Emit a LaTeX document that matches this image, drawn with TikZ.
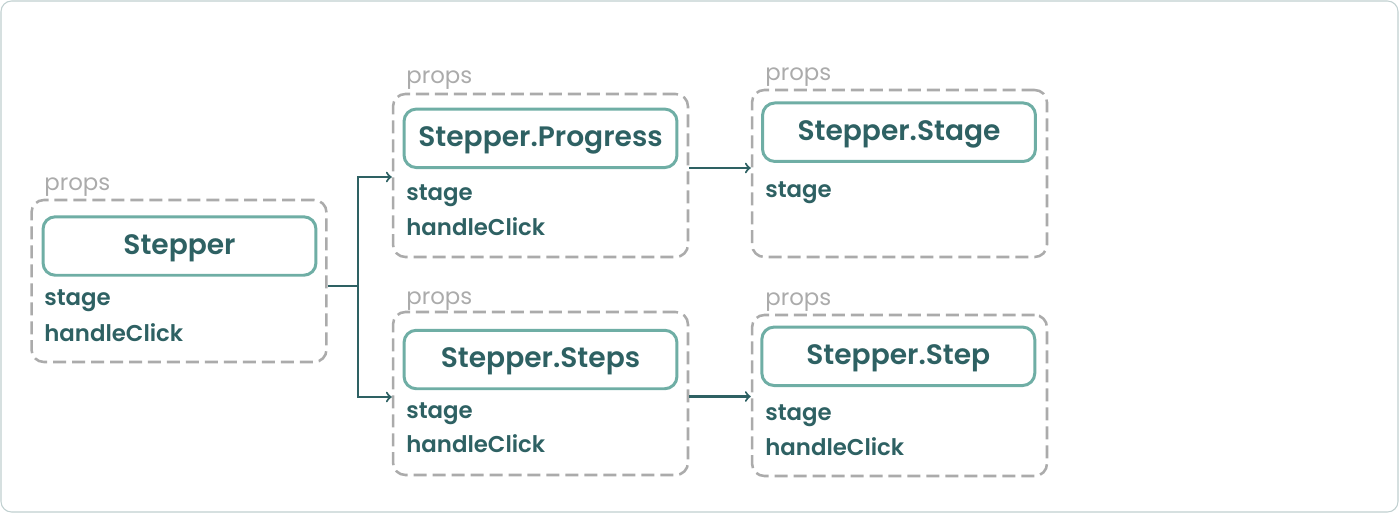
\documentclass[tikz,border=0pt]{standalone}
\usepackage{fontspec}
\setmainfont{Poppins}[BoldFont={Poppins SemiBold}]
\usetikzlibrary{positioning}

\definecolor{ink}{HTML}{2E6163}
\definecolor{tealline}{HTML}{6FAEA5}
\definecolor{dashgray}{HTML}{ABABAB}

\tikzset{
  group/.style={draw=dashgray, line width=1.45pt, dash pattern=on 7.4pt off 3.4pt, rounded corners=7pt,
    minimum width=5.9cm, inner sep=0pt},
  title/.style={draw=tealline, line width=1.7pt, rounded corners=7pt, minimum width=5.46cm, minimum height=1.17cm,
    text=ink, font=\fontsize{16}{18}\selectfont\bfseries, text height=0.92em, text depth=0pt},
  props/.style={anchor=base west, inner sep=0pt, text=dashgray, font=\fontsize{13}{15}\selectfont},
  field/.style={anchor=base west, inner sep=0pt, text=ink, font=\fontsize{13}{15}\selectfont\bfseries},
  link/.style={draw=ink, line width=1.2pt, ->},
}

\begin{document}
\begin{tikzpicture}[x=0.02cm, y=-0.02cm]
\useasboundingbox (0,0) rectangle (1400,514);
\draw[ink!30, line width=0.6pt, rounded corners=6pt] (1,1) rectangle (1398,512);

% Stepper
\node[group, minimum height=3.24cm] (g1) at (179,281) {};
\node[title] (t1) at (179.5,246) {Stepper};
\node[props] (p1) at (44,190) {props};
\node[field] (s1) at (44,305.5) {stage};
\node[field] (h1) at (44,341.5) {handleClick};

% Stepper.Progress
\node[group, minimum height=3.26cm] (g2) at (540.5,175.5) {};
\node[title] (t2) at (540.5,138.3) {Stepper.Progress};
\node[props] (p2) at (406,83) {props};
\node[field] (s2) at (406,200) {stage};
\node[field] (h2) at (406,235) {handleClick};

% Stepper.Stage
\node[group, minimum height=3.34cm] (g3) at (899.5,173.5) {};
\node[title] (t3) at (899,132.2) {Stepper.Stage};
\node[props] (p3) at (765,80.5) {props};
\node[field] (s3) at (765,197.5) {stage};

% Stepper.Steps
\node[group, minimum height=3.26cm] (g4) at (540.5,393.5) {};
\node[title] (t4) at (540.5,359.5) {Stepper.Steps};
\node[props] (p4) at (406,304) {props};
\node[field] (s4) at (406,418.5) {stage};
\node[field] (h4) at (406,452.5) {handleClick};

% Stepper.Step
\node[group, minimum height=3.22cm] (g5) at (899.5,395.5) {};
\node[title] (t5) at (898.3,356.3) {Stepper.Step};
\node[props] (p5) at (765,305) {props};
\node[field] (s5) at (765,420) {stage};
\node[field] (h5) at (765,455) {handleClick};

% links
\coordinate (j1) at (358,286);
\draw[link] (g1.east |- j1) -- (j1) |- (g2.west |- 0,177);
\draw[link] (j1) |- (g4.west |- 0,397);
\draw[link] (g2.east |- 0,168) -- (g3.west |- 0,168);
\draw[link] (g4.east |- 0,396.5) -- (g5.west |- 0,396.5);
\end{tikzpicture}
\end{document}
